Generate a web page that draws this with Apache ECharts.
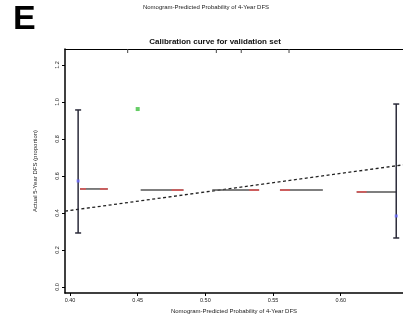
<!DOCTYPE html>
<html><head><meta charset="utf-8">
<script src="https://cdn.jsdelivr.net/npm/echarts@6/dist/echarts.min.js"></script>
<style>html,body{margin:0;padding:0;background:#fff}#c{width:403px;height:322px}</style>
</head><body><div id="c"></div>
<script>
// data
var xTicks = [0.40, 0.45, 0.50, 0.55, 0.60];
var yTicks = [0.0, 0.2, 0.4, 0.6, 0.8, 1.0, 1.2];
// error bars: [x, low, high]
var errorBars = [[0.406, 0.292, 0.957], [0.641, 0.265, 0.989]];
// blue observed points
var bluePoints = [[0.406, 0.573], [0.641, 0.384]];
// green point
var greenPoints = [[0.450, 0.962]];
// horizontal gray segments: [x0, x1, y]
var graySegments = [[0.4074, 0.4279, 0.530], [0.4522, 0.4838, 0.524], [0.5051, 0.5397, 0.524], [0.5551, 0.5868, 0.524], [0.6118, 0.6412, 0.514]];
// red parts of those segments: [x0, x1, y]
var redSegments = [[0.4074, 0.4118, 0.530], [0.4221, 0.4279, 0.530], [0.4750, 0.4838, 0.524], [0.5324, 0.5397, 0.524], [0.5551, 0.5625, 0.524], [0.6118, 0.6191, 0.514]];
// ideal reference line
var idealLine = [[0.3963, 0.410], [0.6460, 0.660]];
// rug ticks at top
var rugX = [0.4426, 0.5081, 0.5265, 0.5618];

var xMin = 0.3963, xMax = 0.6460, yMin = -0.0324, yMax = 1.2865;

var chart = echarts.init(document.getElementById('c'));
function segRender(color, width) {
  return function (params, api) {
    var p0 = api.coord([api.value(0), api.value(2)]);
    var p1 = api.coord([api.value(1), api.value(2)]);
    return {type: 'line', shape: {x1: p0[0], y1: p0[1], x2: p1[0], y2: p1[1]}, style: {stroke: color, lineWidth: width}};
  };
}
chart.setOption({
  animation: false,
  textStyle: {fontFamily: 'Liberation Sans, Arial, sans-serif'},
  graphic: [
    {type: 'text', left: 13, top: 3, style: {text: 'E', font: 'bold 34px Liberation Sans, Arial, sans-serif', fill: '#000'}}
  ],
  title: [
    {text: 'Nomogram-Predicted Probability of 4-Year DFS', left: 206, top: 4, padding: 0, textAlign: 'center',
     textStyle: {fontSize: 6, fontWeight: 'normal', color: '#222'}},
    {text: 'Calibration curve for validation set', left: 215, top: 38, padding: 0, textAlign: 'center',
     textStyle: {fontSize: 8, fontWeight: 'bold', color: '#111'}}
  ],
  grid: {left: 65, top: 49, bottom: 29, right: 0, show: false},
  xAxis: [{
    type: 'value', min: xMin, max: xMax,
    name: 'Nomogram-Predicted Probability of 4-Year DFS', nameLocation: 'middle', nameGap: 15,
    nameTextStyle: {fontSize: 6, color: '#222'},
    axisLine: {show: true, onZero: false, lineStyle: {color: '#000', width: 1.5}},
    axisTick: {show: true, length: 3, customValues: xTicks, lineStyle: {color: '#000'}},
    axisLabel: {fontSize: 5.5, color: '#222', margin: 4, customValues: xTicks, formatter: function (v) { return v.toFixed(2); }},
    splitLine: {show: false}
  }, {
    type: 'value', min: xMin, max: xMax, position: 'top',
    axisLine: {show: true, onZero: false, lineStyle: {color: '#000', width: 1}},
    axisTick: {show: false}, axisLabel: {show: false}, splitLine: {show: false}
  }],
  yAxis: {
    type: 'value', min: yMin, max: yMax,
    name: 'Actual 5-Year DFS (proportion)', nameLocation: 'middle', nameGap: 27,
    nameTextStyle: {fontSize: 6, color: '#222'},
    axisLine: {show: true, onZero: false, lineStyle: {color: '#000', width: 1.5}},
    axisTick: {show: true, length: 3, customValues: yTicks, lineStyle: {color: '#000'}},
    axisLabel: {fontSize: 5.5, color: '#222', margin: 5, rotate: 90, customValues: yTicks, formatter: function (v) { return v.toFixed(1); }},
    splitLine: {show: false}
  },
  series: [
    {type: 'line', data: idealLine, symbol: 'none', lineStyle: {color: '#222', width: 1.3, type: [3, 2.5]}, z: 2},
    {type: 'custom', data: graySegments, renderItem: segRender('#555', 1.5), z: 3},
    {type: 'custom', data: redSegments, renderItem: segRender('#e05555', 1.5), z: 4},
    {type: 'custom', data: errorBars, z: 5, renderItem: function (params, api) {
      var lo = api.coord([api.value(0), api.value(1)]);
      var hi = api.coord([api.value(0), api.value(2)]);
      var s = {stroke: '#2b2b3a', lineWidth: 1.5};
      return {type: 'group', children: [
        {type: 'line', shape: {x1: lo[0], y1: lo[1], x2: hi[0], y2: hi[1]}, style: s},
        {type: 'line', shape: {x1: lo[0] - 3, y1: lo[1], x2: lo[0] + 3, y2: lo[1]}, style: s},
        {type: 'line', shape: {x1: hi[0] - 3, y1: hi[1], x2: hi[0] + 3, y2: hi[1]}, style: s}
      ]};
    }},
    {type: 'custom', data: rugX.map(function (x) { return [x]; }), z: 5, renderItem: function (params, api) {
      var p = api.coord([api.value(0), yMax]);
      return {type: 'line', shape: {x1: p[0], y1: p[1], x2: p[0], y2: p[1] + 4}, style: {stroke: '#444', lineWidth: 1}};
    }},
    {type: 'scatter', data: bluePoints, symbol: 'rect', symbolSize: 3, itemStyle: {color: '#6a6aff'}, z: 6},
    {type: 'scatter', data: greenPoints, symbol: 'rect', symbolSize: 4, itemStyle: {color: '#3fc03f'}, z: 6}
  ]
});
</script></body></html>
